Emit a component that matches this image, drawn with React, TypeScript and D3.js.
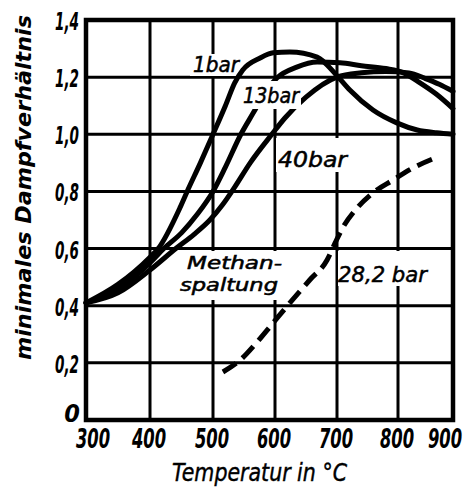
import React from "react";
import * as d3 from "d3";

// Axis ticks
const tempTicks = [300, 400, 500, 600, 700, 800, 900];
const tempTickLabels = ["300", "400", "500", "600", "700", "800", "900"];
const ratioTicks = [0, 0.2, 0.4, 0.6, 0.8, 1.0, 1.2, 1.4];
const ratioTickLabels = ["0", "0,2", "0,4", "0,6", "0,8", "1,0", "1,2", "1,4"];

// Minimum steam ratio, 1 bar
const temp1bar = [300, 350, 400, 413, 448, 459, 480, 500, 520, 535, 548, 576, 597, 624, 668, 700, 721, 759, 798, 835, 870, 900];
const ratio1bar = [0.41, 0.475, 0.57, 0.6, 0.745, 0.8, 0.9, 1.0, 1.1, 1.18, 1.225, 1.267, 1.285, 1.288, 1.27, 1.205, 1.155, 1.085, 1.04, 1.015, 1.005, 1.0];

// Minimum steam ratio, 13 bar
const temp13bar = [300, 350, 400, 422, 450, 475, 500, 520, 545, 565, 585, 603, 635, 668, 705, 740, 780, 810, 840, 870, 900];
const ratio13bar = [0.41, 0.46, 0.55, 0.6, 0.655, 0.72, 0.8, 0.885, 1.0, 1.075, 1.15, 1.197, 1.235, 1.253, 1.25, 1.24, 1.23, 1.215, 1.18, 1.14, 1.09];

// Minimum steam ratio, 40 bar
const temp40bar = [300, 350, 400, 441, 470, 495, 516, 535, 560, 595, 616, 650, 700, 740, 780, 820, 850, 875, 900];
const ratio40bar = [0.41, 0.445, 0.525, 0.6, 0.65, 0.7, 0.755, 0.815, 0.9, 1.0, 1.057, 1.13, 1.2, 1.215, 1.22, 1.215, 1.195, 1.175, 1.15];

// Methane cracking limit at 28,2 bar (dashed)
const tempMethane = [516, 544, 570, 597, 624, 656, 684, 697, 710, 733, 759, 792, 827, 871];
const ratioMethane = [0.168, 0.21, 0.27, 0.34, 0.41, 0.49, 0.56, 0.62, 0.675, 0.742, 0.795, 0.84, 0.882, 0.92];

const W = 469;
const H = 495;
const FONT = "'Liberation Sans Narrow', 'DejaVu Sans Condensed', 'Arial Narrow', sans-serif";

// Print grid: the temperature axis is drawn with its gridlines at these pixel stops
const x = d3.scaleLinear().domain(tempTicks).range([86, 150, 213, 275, 337, 398, 453]);
const y = d3.scaleLinear().domain([0, 1.4]).range([420, 20]);

const line = d3
  .line<[number, number]>()
  .x((d) => x(d[0]))
  .y((d) => y(d[1]))
  .curve(d3.curveMonotoneX);

const zip = (a: number[], b: number[]) => a.map((t, i) => [t, b[i]] as [number, number]);

type Note = {
  lines: { text: string; x: number; y: number; len: number; size: number }[];
  box: [number, number, number, number];
  masksCurve: boolean;
};

const notes: Note[] = [
  { lines: [{ text: "1bar", x: 193, y: 72, len: 46, size: 22 }], box: [190, 54, 47, 22], masksCurve: false },
  { lines: [{ text: "13bar", x: 243, y: 103, len: 56, size: 22 }], box: [241, 81, 60, 28], masksCurve: true },
  { lines: [{ text: "40bar", x: 278, y: 167, len: 69, size: 22 }], box: [276, 138, 75, 34], masksCurve: false },
  {
    lines: [
      { text: "Methan-", x: 187, y: 269, len: 95, size: 18 },
      { text: "spaltung", x: 180, y: 291, len: 98, size: 18 },
    ],
    box: [178, 251, 108, 49],
    masksCurve: false,
  },
  { lines: [{ text: "28,2 bar", x: 338, y: 282, len: 89, size: 22 }], box: [338, 251, 93, 35], masksCurve: false },
];

export default function App() {
  const [x0, x1] = [x(300), x(900)];
  const [y0, y1] = [y(0), y(1.4)];

  const solid = [
    zip(temp1bar, ratio1bar),
    zip(temp13bar, ratio13bar),
    zip(temp40bar, ratio40bar),
  ];

  const box = (n: Note, i: number) => (
    <rect key={i} x={n.box[0]} y={n.box[1]} width={n.box[2]} height={n.box[3]} fill="#fff" />
  );

  return (
    <svg
      width={W}
      height={H}
      viewBox={`0 0 ${W} ${H}`}
      style={{ position: "absolute", left: 0, top: 0, background: "#fff" }}
    >
      <rect x={0} y={0} width={W} height={H} fill="#fff" />

      {/* grid */}
      <g stroke="#000" strokeWidth={3}>
        {tempTicks.slice(1, -1).map((t) => (
          <line key={t} x1={x(t)} x2={x(t)} y1={y0} y2={y1} />
        ))}
        {ratioTicks.slice(1, -1).map((v) => (
          <line key={v} x1={x0} x2={x1} y1={y(v)} y2={y(v)} />
        ))}
      </g>
      <rect x={x0} y={y1} width={x1 - x0} height={y0 - y1} fill="none" stroke="#000" strokeWidth={4.5} />

      {/* label backgrounds below the curves */}
      {notes.filter((n) => !n.masksCurve).map(box)}

      {/* curves */}
      <g fill="none" stroke="#000" strokeWidth={5} strokeLinejoin="round" strokeLinecap="round">
        {solid.map((d, i) => (
          <path key={i} d={line(d) || ""} />
        ))}
      </g>
      <path
        d={line(zip(tempMethane, ratioMethane)) || ""}
        fill="none"
        stroke="#000"
        strokeWidth={5}
        strokeDasharray="16 8"
      />

      {/* label backgrounds above the curves */}
      {notes.filter((n) => n.masksCurve).map(box)}

      {/* curve labels */}
      <g fontFamily={FONT} fontStyle="italic" fill="#000" stroke="#000" strokeWidth={0.5}>
        {notes.flatMap((n, i) =>
          n.lines.map((l, j) => (
            <text
              key={`${i}-${j}`}
              x={l.x}
              y={l.y}
              fontSize={l.size}
              textLength={l.len}
              lengthAdjust="spacingAndGlyphs"
            >
              {l.text}
            </text>
          ))
        )}
      </g>

      {/* y tick labels */}
      <g fontFamily={FONT} fontStyle="italic" fontWeight="bold" fontSize={25} fill="#000" textAnchor="end">
        {ratioTicks.map((v, i) => (
          <text
            key={v}
            x={v === 0 ? 80 : 79}
            y={y(v) + (v === 0 ? 2 : 10)}
            textLength={ratioTickLabels[i].length > 1 ? 24 : undefined}
            lengthAdjust="spacingAndGlyphs"
          >
            {ratioTickLabels[i]}
          </text>
        ))}
      </g>

      {/* x tick labels, condensed horizontally */}
      <g fontFamily={FONT} fontStyle="italic" fontWeight="bold" fontSize={26} fill="#000" textAnchor="middle">
        {tempTicks.map((t, i) => (
          <text
            key={t}
            transform={`translate(${x(t) + (i === 0 ? 7 : i === tempTicks.length - 1 ? -8 : -1)},448) scale(0.7,1)`}
          >
            {tempTickLabels[i]}
          </text>
        ))}
      </g>

      {/* axis titles */}
      <text
        x={172}
        y={481}
        fontFamily={FONT}
        fontStyle="italic"
        fontSize={25}
        textLength={175}
        lengthAdjust="spacingAndGlyphs"
        fill="#000"
        stroke="#000"
        strokeWidth={0.4}
      >
        Temperatur in °C
      </text>
      <text
        transform="translate(31,360) rotate(-90)"
        x={0}
        y={0}
        fontFamily={FONT}
        fontStyle="italic"
        fontWeight="bold"
        fontSize={22}
        textLength={345}
        lengthAdjust="spacingAndGlyphs"
        fill="#000"
      >
        minimales Dampfverhältnis
      </text>
    </svg>
  );
}
